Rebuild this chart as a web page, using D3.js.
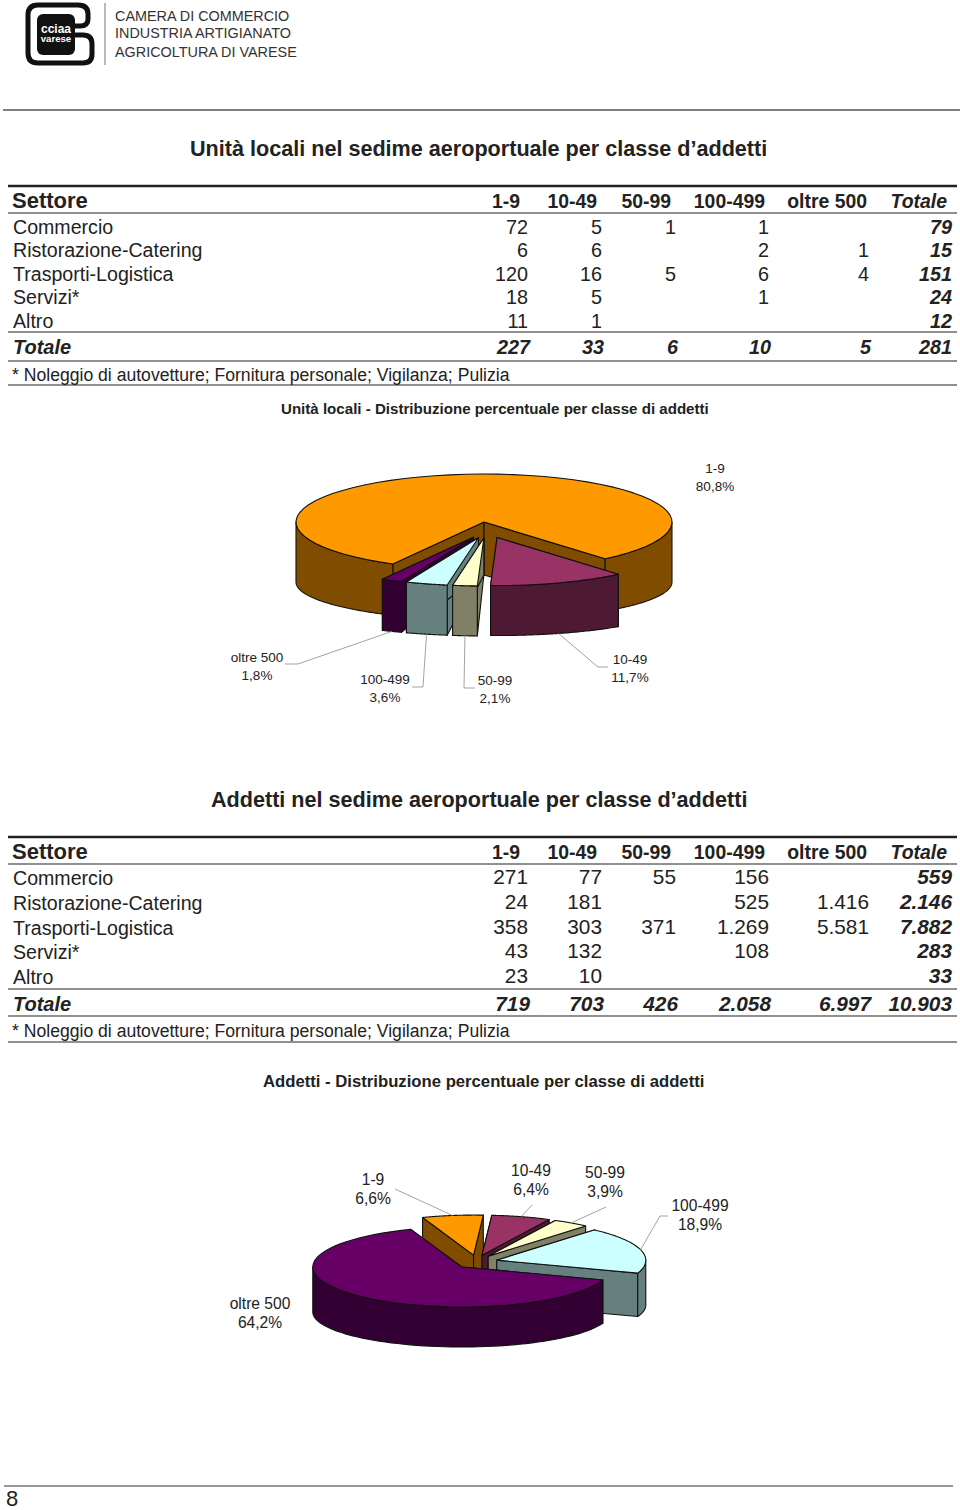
<!DOCTYPE html>
<html>
<head>
<meta charset="utf-8">
<script src="https://cdn.jsdelivr.net/npm/d3@7"></script>
<style>
body { margin: 0; background: #fff; }
svg { display: block; }
text { font-family: "Liberation Sans", Arial, sans-serif; fill: #222; }
</style>
</head>
<body>
<div id="chart"></div>
<script>
const classes = ["1-9", "10-49", "50-99", "100-499", "oltre 500"];
const sectors = ["Commercio", "Ristorazione-Catering", "Trasporti-Logistica", "Servizi*", "Altro"];
const footnote = "* Noleggio di autovetture; Fornitura personale; Vigilanza; Pulizia";

// table 1: unita' locali
const unitaCommercio = ["72", "5", "1", "1", "", "79"];
const unitaRistorazione = ["6", "6", "", "2", "1", "15"];
const unitaTrasporti = ["120", "16", "5", "6", "4", "151"];
const unitaServizi = ["18", "5", "", "1", "", "24"];
const unitaAltro = ["11", "1", "", "", "", "12"];
const unitaTotale = ["227", "33", "6", "10", "5", "281"];

// table 2: addetti
const addettiCommercio = ["271", "77", "55", "156", "", "559"];
const addettiRistorazione = ["24", "181", "", "525", "1.416", "2.146"];
const addettiTrasporti = ["358", "303", "371", "1.269", "5.581", "7.882"];
const addettiServizi = ["43", "132", "", "108", "", "283"];
const addettiAltro = ["23", "10", "", "", "", "33"];
const addettiTotale = ["719", "703", "426", "2.058", "6.997", "10.903"];

// pie shares
const unitaShares = [80.8, 11.7, 2.1, 3.6, 1.8];
const addettiShares = [6.6, 6.4, 3.9, 18.9, 64.2];

const topColors = ["#FF9900", "#993366", "#FFFFCC", "#CCFFFF", "#660066"];
const sideColors = ["#804D00", "#4D1933", "#808066", "#668080", "#330033"];

const svg = d3.select("#chart").append("svg")
    .attr("width", 960)
    .attr("height", 1510);

function addText(str, x, y, size, opts = {}) {
    return svg.append("text")
        .attr("x", x)
        .attr("y", y)
        .attr("text-anchor", opts.anchor || "start")
        .style("font-size", size + "px")
        .style("font-weight", opts.bold ? "bold" : "normal")
        .style("font-style", opts.italic ? "italic" : "normal")
        .style("fill", opts.fill || "#222")
        .text(str);
}

function addRule(x1, x2, y, width, color = "#222") {
    svg.append("line")
        .attr("x1", x1).attr("x2", x2)
        .attr("y1", y).attr("y2", y)
        .attr("stroke", color)
        .attr("stroke-width", width);
}

function drawLogo() {
    const g = svg.append("g");
    g.append("path")
        .attr("d", "M72 35 H83 Q92 35 92 44 V54 Q92 63 83 63 H38 Q28 63 28 53 V15 Q28 5 38 5 H78 Q88 5 88 14 V19 Q88 26 80 26 H72")
        .attr("fill", "none").attr("stroke", "#111").attr("stroke-width", 5);
    g.append("rect")
        .attr("x", 37).attr("y", 14).attr("width", 38).attr("height", 41).attr("rx", 6)
        .attr("fill", "#111");
    g.append("text").attr("x", 56).attr("y", 33).attr("text-anchor", "middle")
        .style("font-size", "12px").style("font-weight", "bold").style("fill", "#fff").text("cciaa");
    g.append("text").attr("x", 56).attr("y", 42).attr("text-anchor", "middle")
        .style("font-size", "9.6px").style("font-weight", "bold").style("fill", "#fff").text("varese");
    g.append("line").attr("x1", 105).attr("x2", 105).attr("y1", 3).attr("y2", 65)
        .attr("stroke", "#777").attr("stroke-width", 1);
    ["CAMERA DI COMMERCIO", "INDUSTRIA ARTIGIANATO", "AGRICOLTURA DI VARESE"].forEach((t, i) => {
        addText(t, 115, [21, 38, 57][i], 14.4, {fill: "#333"});
    });
}

// right edge of each numeric column
const headerRight = d3.scaleOrdinal().domain([...classes, "Totale"]).range([520, 597, 671, 765, 867, 947]);
const valueRight = d3.scaleOrdinal().domain([...classes, "Totale"]).range([528, 602, 676, 769, 869, 952]);
const totalRight = d3.scaleOrdinal().domain([...classes, "Totale"]).range([530, 604, 678, 771, 871, 952]);

function drawTable(rows, totals, rowY, layout) {
    const cols = [...classes, "Totale"];
    addRule(8, 957, layout.top, 2.5);
    addRule(8, 957, layout.head, 1.2);
    addRule(8, 957, layout.body, 1.2);
    addRule(8, 957, layout.total, 1.2);
    addRule(8, 957, layout.bottom, 1.2);

    addText("Settore", 12, layout.headText, 22, {bold: true});
    cols.forEach(c => {
        addText(c, headerRight(c), layout.headText, 19.4, {bold: true, italic: c === "Totale", anchor: "end"});
    });

    sectors.forEach((s, i) => {
        addText(s, 13, rowY(s), 19.6);
        rows[i].forEach((v, j) => {
            const isTot = cols[j] === "Totale";
            addText(v, valueRight(cols[j]), rowY(s) - layout.numLift, layout.numSize,
                {bold: isTot, italic: isTot, anchor: "end"});
        });
    });

    addText("Totale", 13, layout.totalText, 20, {bold: true, italic: true});
    totals.forEach((v, j) => {
        addText(v, totalRight(cols[j]), layout.totalText, layout.numSize,
            {bold: true, italic: true, anchor: "end"});
    });
    addText(footnote, 12, layout.noteText, 17.6);
}

function drawPie(shares, cfg) {
    const {cx, cy, rx, ry, ryBottom, depth, apexDepth, ex, ey} = cfg;
    const arcs = d3.pie().sort(null).startAngle(cfg.start).endAngle(cfg.start + 2 * Math.PI)(shares);
    const line = d3.line();

    const slices = arcs.map((a, i) => {
        const mid = (a.startAngle + a.endAngle) / 2;
        return {
            i, mid,
            a0: a.startAngle,
            a1: a.endAngle,
            ox: ex * Math.sin(mid),
            oy: -ey * Math.cos(mid)
        };
    });

    const topPt = (s, a) => [cx + s.ox + rx * Math.sin(a), cy + s.oy - ry * Math.cos(a)];
    const botPt = (s, a) => [cx + s.ox + rx * Math.sin(a), cy + s.oy + depth - ryBottom * Math.cos(a)];
    const sample = (a0, a1) => d3.range(0, 61).map(k => a0 + (a1 - a0) * k / 60);

    const g = svg.append("g")
        .attr("stroke", "#111")
        .attr("stroke-width", 1.1)
        .attr("stroke-linejoin", "round");

    // back to front
    slices.slice().sort((p, q) => -Math.cos(p.mid) + Math.cos(q.mid)).forEach(s => {
        const apex = [cx + s.ox, cy + s.oy];
        // the inner edges of all slices meet at the same height
        const apexB = [apex[0], cy + apexDepth];

        // cut faces
        [s.a0, s.a1].forEach(a => {
            g.append("path")
                .attr("d", line([apex, topPt(s, a), botPt(s, a), apexB]) + "Z")
                .attr("fill", sideColors[s.i]);
        });

        // outer wall, only the part facing the viewer
        [-1, 0, 1, 2].forEach(k => {
            const lo = Math.max(s.a0, Math.PI / 2 + k * 2 * Math.PI);
            const hi = Math.min(s.a1, 3 * Math.PI / 2 + k * 2 * Math.PI);
            if (hi <= lo) return;
            const pts = sample(lo, hi);
            g.append("path")
                .attr("d", line([...pts.map(a => topPt(s, a)), ...pts.reverse().map(a => botPt(s, a))]) + "Z")
                .attr("fill", sideColors[s.i]);
        });

        // top
        g.append("path")
            .attr("d", line([apex, ...sample(s.a0, s.a1).map(a => topPt(s, a))]) + "Z")
            .attr("fill", topColors[s.i]);
    });

    // leaders and labels
    slices.forEach(s => {
        const lab = cfg.labels[s.i];
        if (lab.leader) {
            const start = Math.cos(s.mid) > 0 ? topPt(s, s.mid) : botPt(s, s.mid);
            svg.append("path")
                .attr("d", line([start, ...lab.leader]))
                .attr("fill", "none")
                .attr("stroke", "#999")
                .attr("stroke-width", 0.9);
        }
        addText(classes[s.i], lab.x, lab.y, cfg.fontSize, {anchor: "middle"});
        addText(shares[s.i].toFixed(1).replace(".", ",") + "%", lab.x, lab.y + cfg.lineGap, cfg.fontSize, {anchor: "middle"});
    });
}

drawLogo();
addRule(3, 960, 110, 1.5, "#555");

// first block
addText("Unità locali nel sedime aeroportuale per classe d’addetti", 190, 156, 21.6, {bold: true});
const rowY1 = d3.scaleOrdinal().domain(sectors).range([234, 257, 281, 304, 328]);
drawTable(
    [unitaCommercio, unitaRistorazione, unitaTrasporti, unitaServizi, unitaAltro],
    unitaTotale, rowY1,
    {top: 186, head: 213, body: 332, total: 361, bottom: 385, headText: 208, totalText: 354, noteText: 381, numSize: 19.8, numLift: 0}
);
addText("Unità locali - Distribuzione percentuale per classe di addetti", 281, 414, 15.1, {bold: true});

drawPie(unitaShares, {
    start: 209 * Math.PI / 180,
    cx: 487, cy: 530, rx: 188, ry: 48, ryBottom: 38, depth: 60, apexDepth: 45, ex: 31, ey: 8,
    fontSize: 13.5, lineGap: 18,
    labels: [
        {x: 715, y: 473},
        {x: 630, y: 664, leader: [[598, 667], [608, 667]]},
        {x: 495, y: 685, leader: [[464, 688], [475, 688]]},
        {x: 385, y: 684, leader: [[423, 687], [412, 687]]},
        {x: 257, y: 662, leader: [[298, 664], [285, 664]]}
    ]
});

// second block
addText("Addetti nel sedime aeroportuale per classe d’addetti", 211, 807, 21.6, {bold: true});
const rowY2 = d3.scaleOrdinal().domain(sectors).range([885, 910, 935, 959, 984]);
drawTable(
    [addettiCommercio, addettiRistorazione, addettiTrasporti, addettiServizi, addettiAltro],
    addettiTotale, rowY2,
    {top: 837, head: 864, body: 989, total: 1016, bottom: 1042, headText: 859, totalText: 1011, noteText: 1037, numSize: 20.8, numLift: 1}
);
addText("Addetti - Distribuzione percentuale per classe di addetti", 263, 1087, 16.7, {bold: true});

drawPie(addettiShares, {
    start: -20 * Math.PI / 180,
    cx: 476.5, cy: 1262, rx: 149, ry: 40, ryBottom: 35, depth: 45, apexDepth: 42, ex: 21, ey: 7,
    fontSize: 15.6, lineGap: 19,
    labels: [
        {x: 373, y: 1185, leader: [[395, 1189]]},
        {x: 531, y: 1176, leader: [[532, 1205]]},
        {x: 605, y: 1178, leader: [[606, 1207]]},
        {x: 700, y: 1211, leader: [[660, 1216], [668, 1216]]},
        {x: 260, y: 1309}
    ]
});

// page footer
addRule(4, 953, 1486, 1.2, "#333");
addText("8", 6, 1506, 22);
</script>
</body>
</html>
